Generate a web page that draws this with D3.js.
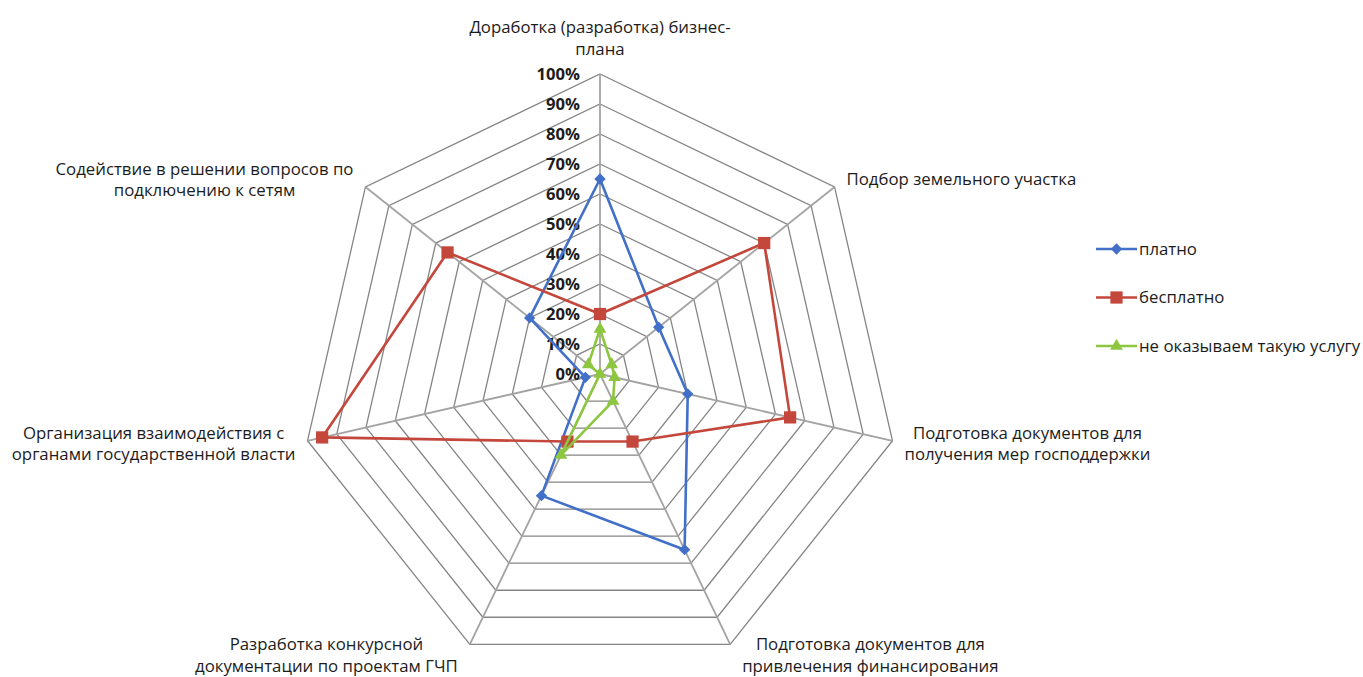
<!DOCTYPE html>
<html><head><meta charset="utf-8">
<script src="https://cdn.jsdelivr.net/npm/d3@7"></script>
<style>
body{margin:0;background:#fff}
svg text{font-family:"Open Sans","DejaVu Sans",sans-serif;fill:#1c1c1c}
</style>
</head><body>
<svg id="chart" width="1363" height="677"></svg>
<script>
// ---- data ----
const categories = [
  ["Доработка (разработка) бизнес-", "плана"],
  ["Подбор земельного участка"],
  ["Подготовка документов для", "получения мер господдержки"],
  ["Подготовка документов для", "привлечения финансирования"],
  ["Разработка конкурсной", "документации по проектам ГЧП"],
  ["Организация взаимодействия с", "органами государственной власти"],
  ["Содействие в решении вопросов по", "подключению к сетям"]
];
const seriesNames = ["платно", "бесплатно", "не оказываем такую услугу"];
const paid        = [65, 25, 30, 65, 45, 5, 30];
const free        = [20, 70, 65, 25, 25, 95, 65];
const notProvided = [15, 5, 5, 10, 30, 0, 5];
const tickValues  = [0, 10, 20, 30, 40, 50, 60, 70, 80, 90, 100];
const tickLabels  = ["0%", "10%", "20%", "30%", "40%", "50%", "60%", "70%", "80%", "90%", "100%"];

// ---- layout / style ----
const cx = 600, cy = 374, R = 300;
const colors = ["#4270C8", "#C4473C", "#8DC63F"];
const symbols = ["diamond", "square", "triangle"];
const seriesData = [paid, free, notProvided];
const labelSize = 16.8, lineGap = 21.5;

const svg = d3.select("#chart");
const n = categories.length;
const rScale = d3.scaleLinear().domain([0, 100]).range([0, R]);
const aScale = d3.scaleLinear().domain([0, n]).range([0, 2 * Math.PI]);
const px = (i, v) => cx + rScale(v) * Math.sin(aScale(i));
const py = (i, v) => cy - rScale(v) * Math.cos(aScale(i));

const g = svg.append("g");
const idx = d3.range(n);

// grid polygons
g.selectAll("path.ring").data(tickValues.slice(1)).join("path")
  .attr("class", "ring")
  .attr("d", v => d3.line().curve(d3.curveLinearClosed)(idx.map(i => [px(i, v), py(i, v)])))
  .attr("fill", "none").attr("stroke", "#858585").attr("stroke-width", 1.3);

// spokes
g.selectAll("line.spoke").data(idx).join("line")
  .attr("class", "spoke")
  .attr("x1", cx).attr("y1", cy)
  .attr("x2", i => px(i, 100)).attr("y2", i => py(i, 100))
  .attr("stroke", "#a3a3a3").attr("stroke-width", 1.8);

// tick labels
g.selectAll("text.tick").data(tickValues).join("text")
  .attr("class", "tick")
  .attr("x", cx - 20).attr("y", v => py(0, v))
  .attr("dy", "0.36em")
  .attr("text-anchor", "end")
  .attr("font-size", 16.6).attr("font-weight", "bold")
  .text((v, i) => tickLabels[i]);

// category labels
const lab = g.selectAll("g.cat").data(categories).join("g").attr("class", "cat");
lab.each(function (lines, i) {
  const sel = d3.select(this);
  const t = sel.selectAll("text").data(lines).join("text")
    .attr("text-anchor", "middle")
    .attr("font-size", labelSize)
    .attr("y", (d, k) => k * lineGap)
    .attr("dy", "0.35em")
    .text(d => d);
  const w = d3.max(t.nodes(), nd => nd.getComputedTextLength());
  const a = aScale(i), s = Math.sin(a), c = Math.cos(a);
  const vx = px(i, 100), vy = py(i, 100);
  const blockH = (lines.length - 1) * lineGap;
  let x, y;
  if (Math.abs(s) < 0.1) {
    x = vx; y = vy - 25 - blockH;
  } else {
    const gap = 12;
    x = vx + Math.sign(s) * (gap + w / 2);
    y = vy - c * 12 - blockH / 2;
  }
  sel.attr("transform", `translate(${x},${y})`);
});

// series
function symPath(type) {
  if (type === "diamond") return d3.symbol(d3.symbolSquare, 64)();
  if (type === "square") return d3.symbol(d3.symbolSquare, 150)();
  return d3.symbol(d3.symbolTriangle, 70)();
}
seriesData.forEach((vals, si) => {
  const line = d3.lineRadial()
    .angle((d, i) => aScale(i))
    .radius(d => rScale(d))
    .curve(d3.curveLinearClosed);
  g.append("path")
    .attr("transform", `translate(${cx},${cy})`)
    .attr("d", line(vals))
    .attr("fill", "none").attr("stroke", colors[si]).attr("stroke-width", 2.6)
    .attr("stroke-linejoin", "round");
  g.selectAll("path.m" + si).data(vals).join("path")
    .attr("class", "m" + si)
    .attr("d", symPath(symbols[si]))
    .attr("transform", (d, i) => `translate(${px(i, d)},${py(i, d)})` + (symbols[si] === "diamond" ? " rotate(45)" : ""))
    .attr("fill", colors[si]);
});

// legend
const leg = g.append("g").attr("transform", "translate(1096,249)");
seriesNames.forEach((name, si) => {
  const row = leg.append("g").attr("transform", `translate(0,${si * 48.5})`);
  row.append("line").attr("x1", 0).attr("x2", 41).attr("y1", 0).attr("y2", 0)
    .attr("stroke", colors[si]).attr("stroke-width", 2.6);
  row.append("path").attr("d", symPath(symbols[si]))
    .attr("transform", `translate(20.5,0)` + (symbols[si] === "diamond" ? " rotate(45)" : ""))
    .attr("fill", colors[si]);
  row.append("text").attr("x", 43).attr("y", 0).attr("dy", "0.35em")
    .attr("font-size", labelSize).text(name);
});
</script>
</body></html>
